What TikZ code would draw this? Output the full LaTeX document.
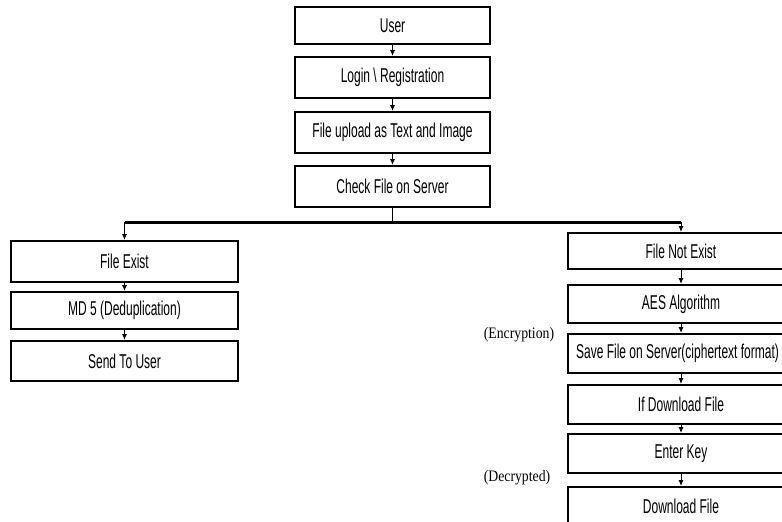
\documentclass[tikz,border=0pt]{standalone}
\usepackage{fontspec}
\setmainfont[FakeStretch=0.6]{Liberation Sans}
\newfontfamily\notefont[FakeStretch=0.86]{Liberation Serif}
\usetikzlibrary{arrows.meta}

\begin{document}
\begin{tikzpicture}[x=1pt, y=-1pt,
  box/.style={draw, line width=2pt, fill=white, inner sep=0pt,
    font=\fontsize{20}{22}\selectfont},
  topbox/.style={box, minimum width=195, minimum height=41},
  leftbox/.style={box, minimum width=227, minimum height=40},
  rightbox/.style={box, minimum width=226, minimum height=38},
  link/.style={line width=0.9pt, -{Latex[length=6pt,width=5pt]}},
  trunk/.style={line width=3pt},
  note/.style={font=\notefont\fontsize{16}{18}\selectfont}]

% 画布大小
\useasboundingbox (0,0) rectangle (782,522);
\clip (0,0) rectangle (782,522);

% 上方主流程
\node[topbox, minimum height=37] (user) at (392.5,25.5) {User};
\node[topbox] (login) at (392.5,77.5) {Login \textbackslash\ Registration};
\node[topbox] (upload) at (392.5,132.5) {File upload as Text and Image};
\node[topbox] (check) at (392.5,186.5) {Check File on Server};

% 左侧分支：文件已存在
\node[leftbox, minimum height=41] (exist) at (124.5,261.5) {File Exist};
\node[leftbox, minimum height=37] (md5) at (124.5,310.5) {MD 5 (Deduplication)};
\node[leftbox] (send) at (124.5,361) {Send To User};

% 右侧分支：文件不存在
\node[rightbox, minimum height=36] (notexist) at (681,251) {File Not Exist};
\node[rightbox] (aes) at (681,304) {AES Algorithm};
\node[rightbox, minimum height=39] (save) at (681,353.5) {\hspace*{-7pt}Save File on Server(ciphertext format)};
\node[rightbox, minimum height=39] (ifdl) at (681,404.5) {If Download File};
\node[rightbox, minimum height=39] (key) at (681,453.5) {Enter Key};
\node[rightbox, minimum height=39] (dl) at (681,506.5) {Download File};

% 加密、解密说明
\node[note] (enc) at (519,335) {(Encryption)};
\node[note] (dec) at (517,478) {(Decrypted)};

% 主流程箭头
\draw[link] (user) -- (login);
\draw[link] (login) -- (upload);
\draw[link] (upload) -- (check);

% 分叉线
\coordinate (split) at (check.south |- 0,222);
\coordinate (lc) at (exist.north |- split);
\coordinate (rc) at (notexist.north |- split);
\draw[line width=1.6pt] (check.south) -- (split);
\draw[trunk] (lc) -- (rc);
\draw[link] (lc) -- (exist);
\draw[link] (rc) -- (notexist);

% 左侧箭头
\draw[link] (exist) -- (md5);
\draw[link] (md5) -- (send);

% 右侧箭头
\draw[link] (notexist) -- (aes);
\draw[link] (aes) -- (save);
\draw[link] (save) -- (ifdl);
\draw[link] (ifdl) -- (key);
\draw[link] (key) -- (dl);

\end{tikzpicture}
\end{document}
